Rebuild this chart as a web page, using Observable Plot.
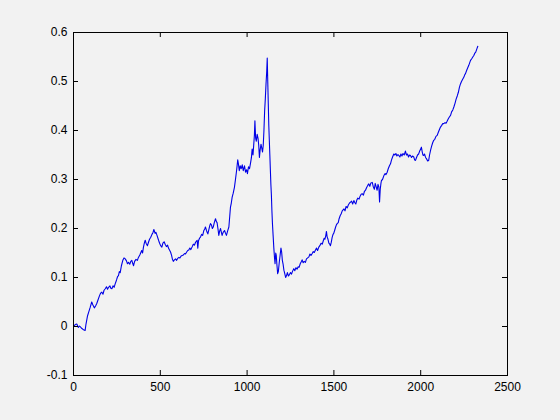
<!DOCTYPE html>
<html>
<head>
<meta charset="utf-8">
<script src="https://cdn.jsdelivr.net/npm/d3@7"></script>
<script src="https://cdn.jsdelivr.net/npm/@observablehq/plot@0.6"></script>
<style>
  html, body { margin: 0; padding: 0; background: #f2f2f2; }
  #chart { width: 560px; height: 420px; }
</style>
</head>
<body>
<div id="chart"></div>
<script>
const xTicks = [0, 500, 1000, 1500, 2000, 2500];
const xTickLabels = ["0", "500", "1000", "1500", "2000", "2500"];
const yTicks = [-0.1, 0, 0.1, 0.2, 0.3, 0.4, 0.5, 0.6];
const yTickLabels = ["-0.1", "0", "0.1", "0.2", "0.3", "0.4", "0.5", "0.6"];

const xs = [0,10,19,28,35,45,55,67,72,81,88,96,105,112,120,127,134,142,150,156,163,170,176,183,190,196,202,210,215,221,228,234,240,248,254,259,264,269,276,284,291,298,305,311,317,324,330,336,341,346,352,360,368,374,382,388,393,398,403,408,413,418,426,432,438,445,452,458,463,470,475,481,490,496,502,509,515,522,528,535,542,547,553,559,565,570,575,581,588,594,600,607,613,620,626,633,640,645,652,658,664,670,676,684,690,697,703,712,716,720,726,732,738,744,751,756,760,766,770,774,780,785,789,795,800,805,811,818,823,827,832,837,842,847,852,856,862,870,876,881,888,895,900,904,909,914,920,927,933,940,946,950,955,960,966,972,978,985,991,997,1002,1008,1014,1020,1025,1029,1034,1038,1042,1045,1049,1053,1058,1063,1067,1071,1075,1080,1084,1089,1093,1097,1101,1105,1109,1113,1116,1119,1122,1125,1128,1131,1134,1137,1140,1143,1146,1150,1154,1158,1161,1165,1168,1172,1176,1180,1185,1190,1195,1199,1203,1207,1212,1217,1222,1227,1232,1238,1244,1250,1256,1262,1269,1275,1281,1288,1294,1300,1306,1312,1317,1323,1329,1336,1342,1349,1356,1362,1368,1375,1381,1387,1394,1400,1406,1413,1419,1426,1433,1439,1444,1448,1453,1457,1461,1466,1471,1476,1480,1485,1490,1495,1499,1505,1510,1515,1519,1525,1530,1536,1542,1548,1553,1558,1564,1570,1577,1583,1590,1596,1602,1608,1615,1620,1626,1632,1638,1645,1651,1657,1663,1670,1676,1682,1688,1695,1701,1707,1713,1721,1727,1733,1738,1743,1749,1754,1759,1763,1767,1771,1774,1780,1788,1795,1800,1807,1813,1820,1826,1832,1838,1845,1851,1857,1863,1869,1874,1880,1886,1892,1898,1905,1912,1918,1924,1930,1936,1941,1947,1953,1960,1965,1970,1976,1982,1988,1994,2000,2004,2009,2013,2017,2022,2028,2034,2040,2046,2051,2057,2063,2069,2075,2081,2088,2095,2101,2108,2114,2120,2127,2133,2140,2146,2152,2159,2166,2172,2178,2185,2191,2198,2204,2211,2217,2223,2229,2235,2241,2249,2254,2258,2265,2271,2277,2282,2287,2293,2300,2306,2312,2317,2320,2325,2329];

const ys = [0.000,0.004,0.005,-0.002,0.001,-0.003,-0.006,-0.008,0.005,0.022,0.030,0.039,0.050,0.044,0.038,0.042,0.047,0.055,0.063,0.068,0.070,0.066,0.074,0.077,0.081,0.076,0.080,0.083,0.078,0.077,0.083,0.080,0.087,0.095,0.102,0.104,0.112,0.110,0.124,0.135,0.140,0.138,0.134,0.128,0.131,0.127,0.133,0.135,0.129,0.124,0.133,0.137,0.135,0.141,0.146,0.151,0.155,0.150,0.162,0.170,0.176,0.170,0.165,0.172,0.178,0.182,0.188,0.192,0.198,0.190,0.192,0.186,0.176,0.170,0.165,0.162,0.170,0.173,0.168,0.163,0.166,0.160,0.156,0.152,0.145,0.137,0.133,0.136,0.138,0.135,0.139,0.141,0.140,0.144,0.145,0.146,0.149,0.148,0.152,0.155,0.156,0.160,0.157,0.163,0.168,0.166,0.172,0.176,0.160,0.175,0.180,0.183,0.188,0.186,0.196,0.199,0.203,0.196,0.192,0.189,0.198,0.206,0.210,0.207,0.200,0.203,0.212,0.220,0.214,0.212,0.200,0.186,0.195,0.200,0.192,0.186,0.192,0.196,0.190,0.186,0.195,0.203,0.225,0.243,0.252,0.264,0.272,0.284,0.300,0.320,0.340,0.332,0.318,0.328,0.322,0.330,0.318,0.328,0.315,0.320,0.312,0.326,0.322,0.334,0.345,0.362,0.350,0.370,0.390,0.420,0.385,0.378,0.392,0.384,0.370,0.345,0.360,0.372,0.365,0.356,0.370,0.400,0.440,0.465,0.495,0.520,0.548,0.500,0.455,0.410,0.380,0.350,0.320,0.290,0.268,0.235,0.210,0.185,0.160,0.140,0.128,0.150,0.145,0.125,0.108,0.112,0.130,0.145,0.160,0.152,0.135,0.128,0.115,0.108,0.100,0.104,0.110,0.103,0.106,0.110,0.107,0.113,0.118,0.114,0.120,0.117,0.122,0.121,0.128,0.132,0.136,0.130,0.133,0.131,0.138,0.140,0.142,0.148,0.145,0.149,0.153,0.151,0.156,0.160,0.155,0.162,0.165,0.170,0.168,0.175,0.180,0.178,0.185,0.194,0.183,0.178,0.170,0.168,0.165,0.172,0.182,0.188,0.190,0.197,0.203,0.208,0.210,0.212,0.220,0.226,0.230,0.236,0.238,0.240,0.236,0.245,0.242,0.248,0.252,0.254,0.256,0.250,0.257,0.253,0.250,0.258,0.262,0.260,0.266,0.270,0.271,0.268,0.276,0.278,0.283,0.288,0.291,0.286,0.293,0.294,0.285,0.280,0.292,0.286,0.278,0.290,0.285,0.254,0.280,0.292,0.298,0.300,0.308,0.312,0.310,0.315,0.322,0.328,0.332,0.340,0.346,0.352,0.350,0.353,0.348,0.351,0.349,0.346,0.352,0.348,0.353,0.350,0.358,0.350,0.352,0.346,0.350,0.349,0.345,0.348,0.346,0.340,0.339,0.345,0.350,0.352,0.358,0.362,0.366,0.356,0.350,0.349,0.352,0.345,0.342,0.338,0.339,0.350,0.360,0.368,0.375,0.380,0.382,0.388,0.390,0.396,0.402,0.407,0.410,0.414,0.414,0.416,0.415,0.419,0.424,0.428,0.431,0.438,0.442,0.448,0.456,0.464,0.471,0.478,0.488,0.495,0.500,0.504,0.509,0.514,0.516,0.523,0.528,0.533,0.538,0.543,0.546,0.550,0.553,0.558,0.560,0.563,0.568,0.572];

const series = xs.map((x, i) => ({x, y: ys[i]}));

const W = 560, H = 420, mL = 73, mR = 53, mT = 32, mB = 45;
const innerW = W - mL - mR, innerH = H - mT - mB, tick = 5;

const chart = Plot.plot({
  width: W, height: H,
  marginLeft: mL, marginRight: mR, marginTop: mT, marginBottom: mB,
  style: {background: "#f2f2f2", fontFamily: "'Liberation Sans', Arial, sans-serif", fontSize: "12px", color: "black"},
  x: {domain: [0, 2500]},
  y: {domain: [-0.1, 0.6]},
  marks: [
    Plot.line(series, {x: "x", y: "y", stroke: "#0000e6", strokeWidth: 1.1}),
    Plot.tickX(xTicks, {x: d => d, insetTop: innerH - tick}),
    Plot.tickX(xTicks, {x: d => d, insetBottom: innerH - tick}),
    Plot.tickY(yTicks, {y: d => d, insetRight: innerW - tick}),
    Plot.tickY(yTicks, {y: d => d, insetLeft: innerW - tick}),
    Plot.axisX(xTicks, {tickSize: 0, tickPadding: 7, label: null, tickFormat: (d, i) => xTickLabels[i], fill: "black"}),
    Plot.axisY(yTicks, {tickSize: 0, tickPadding: 6, label: null, tickFormat: (d, i) => yTickLabels[i], fill: "black"}),
    Plot.frame({stroke: "black"})
  ]
});
document.getElementById("chart").appendChild(chart);
</script>
</body>
</html>
